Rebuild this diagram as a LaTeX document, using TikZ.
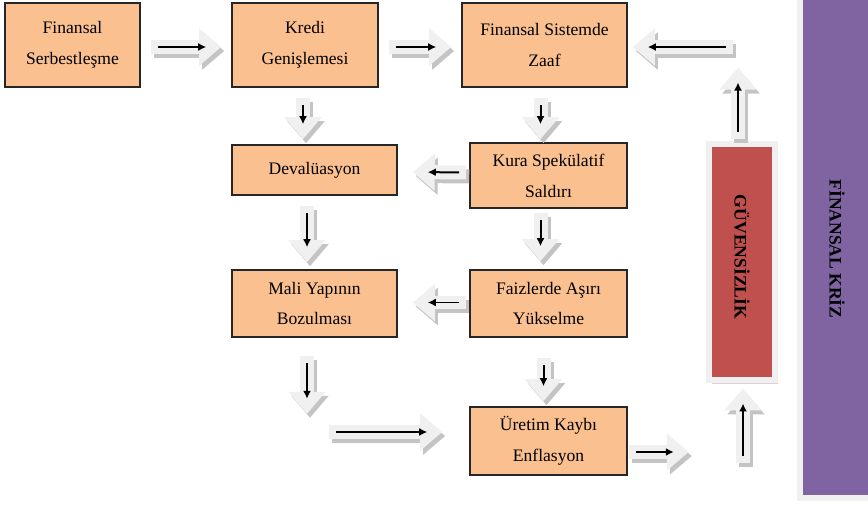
\documentclass[tikz,border=0pt]{standalone}
\usepackage{fontspec}
\setmainfont{Liberation Serif}
\usetikzlibrary{arrows.meta,calc,shadows}
\definecolor{peach}{HTML}{FAC090}
\definecolor{alarmred}{HTML}{C0504D}
\definecolor{crisispurple}{HTML}{8064A2}
\definecolor{arrowfill}{HTML}{F0F0F0}
\definecolor{arrowshade}{HTML}{C4C4C4}
\definecolor{guvenshade}{HTML}{C3A3A3}

\tikzset{
  stage/.style={draw=black!85, line width=0.9pt, fill=peach, align=center,
    inner sep=0pt, font=\fontsize{10}{17.6}\selectfont},
  fatbody/.style={line width=0.28cm, draw=arrowfill,
    -{Triangle[length=0.44cm,width=0.72cm]}},
  fatshade/.style={fatbody, draw=arrowshade,
    transform canvas={shift={(0.06cm,-0.08cm)}}},
  thinarrow/.style={line width=0.04cm, draw=black, shorten <=0.14cm,
    shorten >=0.3cm, -{Latex[length=0.16cm,width=0.16cm]}}
}
\newcommand{\fatarrow}[2]{%
  \draw[fatshade] #1 -- #2;
  \draw[fatbody] #1 -- #2;
  \draw[thinarrow] #1 -- #2;
}

\begin{document}
\begin{tikzpicture}[x=0.02cm,y=-0.02cm]
\useasboundingbox (0,0) rectangle (868,506);

% stages
\node[stage, minimum width=2.7cm, minimum height=1.68cm] (ser) at (72.5,45) {Finansal\\Serbestleşme};
\node[stage, minimum width=2.92cm, minimum height=1.68cm] (kredi) at (305,45) {Kredi\\Genişlemesi};
\node[stage, minimum width=3.3cm, minimum height=1.68cm] (zaaf) at (544.5,45) {Finansal Sistemde\\Zaaf};
\node[stage, minimum width=3.3cm, minimum height=1.0cm] (deval) at (314.5,170) {Devalüasyon};
\node[stage, minimum width=3.14cm, minimum height=1.3cm] (kura) at (548.5,175.5) {Kura Spekülatif\\Saldırı};
\node[stage, minimum width=3.3cm, minimum height=1.34cm] (mali) at (314.5,303.5) {Mali Yapının\\Bozulması};
\node[stage, minimum width=3.14cm, minimum height=1.34cm] (faiz) at (548.5,303.5) {Faizlerde Aşırı\\Yükselme};
\node[stage, minimum width=3.14cm, minimum height=1.36cm] (uretim) at (548.5,441) {Üretim Kaybı\\Enflasyon};

% side bars
\node[draw=arrowfill, line width=0.12cm, fill=alarmred, minimum width=1.32cm, minimum height=4.74cm,
  drop shadow={shadow xshift=0.06cm, shadow yshift=-0.07cm, fill=guvenshade}] (guven) at (742,262) {};
\node[rotate=-90, font=\bfseries\fontsize{10}{12}\selectfont] (guventext) at (742,257) {GÜVENSİZLİK};
\node[draw=arrowfill, line width=0.12cm, fill=crisispurple, minimum width=1.6cm, minimum height=10.02cm] (kriz) at (840,247.5) {};
\node[rotate=-90, font=\bfseries\fontsize{10}{12}\selectfont] (kriztext) at (837,249) {FİNANSAL KRİZ};

% arrows
\fatarrow{($(ser.east)+(10,2)$)}{($(kredi.west)+(-10,2)$)}
\fatarrow{($(kredi.east)+(10,2)$)}{($(zaaf.west)+(-10,2)$)}
\fatarrow{($(zaaf.east)+(105,2)$)}{($(zaaf.east)+(5,2)$)}
\fatarrow{($(guven.north)+(-4,-2)$)}{($(guven.north)+(-4,-73)$)}
\fatarrow{($(kredi.south)+(-2,10)$)}{($(deval.north)+(-11.5,-5)$)}
\fatarrow{($(zaaf.south)+(-4,10)$)}{($(kura.north)+(-8,-3)$)}
\fatarrow{($(kura.west)+(-3,-3)$)}{($(deval.east)+(15,2)$)}
\fatarrow{($(deval.south)+(-7.5,10)$)}{($(mali.north)+(-7.5,-7)$)}
\fatarrow{($(kura.south)+(-8,4)$)}{($(faiz.north)+(-8,-8)$)}
\fatarrow{($(faiz.west)+(-3,-1)$)}{($(mali.east)+(15,-1)$)}
\fatarrow{($(mali.south)+(-7.5,18)$)}{($(mali.south)+(-7.5,76)$)}
\fatarrow{($(uretim.west)+(-140,-9)$)}{($(uretim.west)+(-27,-9)$)}
\fatarrow{($(faiz.south)+(-5,20)$)}{($(uretim.north)+(-5,-5)$)}
\fatarrow{($(uretim.east)+(1,11)$)}{($(uretim.east)+(61,11)$)}
\fatarrow{($(guven.south)+(1,80)$)}{($(guven.south)+(1,5)$)}
\end{tikzpicture}
\end{document}
